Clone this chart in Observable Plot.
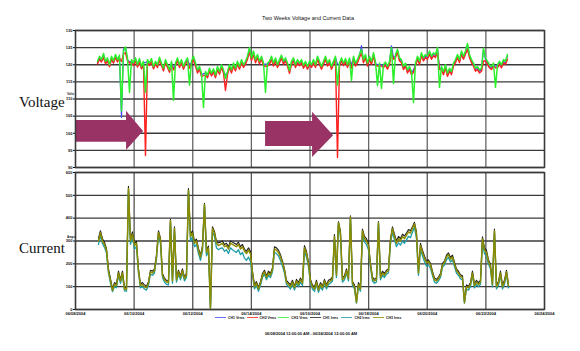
<!DOCTYPE html>
<html><head><meta charset="utf-8">
<script src="https://cdn.jsdelivr.net/npm/d3@7"></script>
<script src="https://cdn.jsdelivr.net/npm/@observablehq/plot@0.6"></script>
<style>
body{margin:0;background:#fff;}
#root{position:relative;width:580px;height:351px;overflow:hidden;font-family:Arial,"Liberation Sans",sans-serif;color:#111;}
#root svg{position:absolute;left:0;}
.t{position:absolute;white-space:nowrap;}
</style></head><body><div id="root"></div>
<script>
const chartTitle = "Two Weeks Voltage and Current Data";
const caption = "06/08/2004 12:00:00 AM - 06/24/2004 12:00:00 AM";
const seriesNames = ["CH1 Vrms","CH2 Vrms","CH3 Vrms","CH1 Irms","CH2 Irms","CH3 Irms"];
const seriesColors = ["#4646ff","#ff2020","#2cf02c","#1e1e1e","#1c9ca8","#8c8c00"];
const xTickLabels = ["06/08/2004","06/10/2004","06/12/2004","06/14/2004","06/16/2004","06/18/2004","06/20/2004","06/22/2004","06/24/2004"];
const voltTicks = [90,95,100,105,110,115,120,125,130];
const ampTicks = [0,100,200,300,400,500,600];

// sampling: start hour after 06/08/2004 00:00 and minutes between samples
const voltStartHour = 18.0, currStartHour = 18.8;
const stepMin = 98.25;

// Voltage CH3 (green)
const vGreen = [121.0,122.5,121.5,123.3,121.0,122.0,120.0,122.5,121.2,123.0,
121.5,122.8,106.5,124.0,125.2,122.0,111.9,121.5,120.5,122.0,
120.0,121.8,119.5,121.0,112.0,121.5,120.5,121.8,119.5,121.0,
120.0,122.2,120.5,119.0,121.5,120.0,118.5,121.0,109.6,120.5,
122.0,120.0,121.5,119.5,121.0,122.0,114.0,121.0,122.5,120.5,
118.5,119.5,117.5,107.5,118.0,117.0,119.0,117.5,118.8,117.0,
119.5,118.0,120.0,118.5,116.0,118.0,120.0,118.5,120.5,119.0,
121.0,119.5,121.5,120.0,121.0,122.5,125.0,122.0,124.0,121.5,
123.0,121.0,122.5,120.5,111.9,120.5,121.0,122.5,120.5,122.0,
120.0,121.5,122.8,121.0,122.0,120.5,118.3,121.0,122.0,120.0,
121.5,120.5,121.5,119.8,121.0,119.5,121.0,120.0,121.5,120.0,
122.5,121.0,119.5,121.0,122.5,120.5,121.5,119.5,121.0,122.5,
114.0,120.5,122.0,120.5,121.8,120.0,122.0,115.4,122.5,120.5,
121.5,123.0,124.5,121.5,123.0,120.5,122.5,121.0,123.5,120.8,
113.9,120.5,113.1,120.0,120.8,119.5,121.0,125.0,114.5,123.0,
124.5,122.0,121.5,119.5,120.5,118.5,119.5,118.0,109.0,120.5,
122.5,121.0,123.5,122.0,123.0,122.5,124.0,122.5,123.5,123.0,
125.0,113.4,119.5,118.0,120.0,117.5,119.0,118.0,120.5,121.5,
123.0,121.5,124.0,122.5,124.0,126.2,123.0,121.5,120.5,119.0,
119.5,118.5,119.0,124.8,122.0,121.0,120.0,119.5,120.5,113.4,
120.0,121.0,120.0,121.5,121.0,123.0];
// Voltage CH2 (red)
const vRed = [120.2,121.6,120.8,122.2,120.3,121.1,119.4,121.5,120.5,122.1,
120.8,121.9,121.0,123.1,123.5,121.2,120.5,120.6,119.8,121.1,
119.3,120.9,118.8,120.1,93.5,120.6,119.8,120.9,118.8,120.2,
119.2,121.3,119.8,118.2,120.6,119.2,117.8,120.1,118.5,119.7,
121.2,119.2,120.6,118.7,120.2,121.1,119.0,120.2,121.5,119.6,
117.6,118.7,116.6,116.8,117.0,116.2,118.1,116.7,117.9,116.2,
118.6,117.2,119.2,117.6,112.5,117.1,119.2,117.6,119.6,118.2,
120.2,118.7,120.6,119.2,120.1,121.6,123.8,121.2,123.0,120.6,
122.1,120.2,121.6,119.7,119.5,119.6,120.1,121.6,119.6,121.1,
119.2,120.6,121.9,120.1,121.1,119.6,117.5,120.1,121.1,119.2,
120.6,119.7,120.6,119.0,120.1,118.7,120.1,119.2,120.6,119.2,
121.6,120.1,118.7,120.1,121.6,119.6,120.6,118.7,120.1,121.6,
92.9,119.6,121.1,119.7,120.9,119.2,121.1,119.0,121.6,119.6,
120.6,122.1,123.4,120.6,122.1,119.6,121.6,120.1,122.6,119.9,
119.6,119.6,119.6,119.2,119.9,118.7,120.1,123.6,121.6,122.1,
123.6,121.1,120.6,118.6,119.6,117.6,118.6,117.1,117.8,119.6,
121.6,120.1,122.6,121.1,122.1,121.6,123.1,121.6,122.6,122.1,
123.9,118.6,118.6,117.1,119.1,116.6,118.1,117.1,119.6,120.6,
122.1,120.6,123.1,121.6,123.1,124.5,122.1,120.6,119.6,118.1,
118.6,117.6,118.1,121.1,121.1,120.1,119.1,118.6,119.6,119.1,
119.1,120.1,119.1,120.6,120.1,121.6];
// Voltage CH1 (blue)
const vBlue = [120.6,122.0,121.0,122.8,120.6,121.5,119.6,122.0,120.8,122.5,
121.0,122.3,104.6,124.6,124.8,121.5,120.8,121.0,120.1,121.5,
119.6,121.4,119.0,120.6,120.6,121.0,120.1,121.4,119.0,120.6,
119.6,121.8,120.1,118.6,121.0,119.6,118.1,120.6,119.0,120.1,
121.6,119.6,121.0,119.0,120.6,121.6,120.0,120.6,122.1,120.1,
118.1,119.0,117.1,117.4,117.6,116.6,118.6,117.1,118.4,116.6,
119.0,117.6,119.6,118.1,117.0,117.6,119.6,118.1,120.1,118.6,
120.6,119.0,121.0,119.6,120.6,122.1,124.6,121.6,123.6,121.0,
122.6,120.6,122.1,120.1,120.2,120.1,120.6,122.1,120.1,121.6,
119.6,121.0,122.4,120.6,121.6,120.1,118.0,120.6,121.6,119.6,
121.0,120.1,121.0,119.4,120.6,119.0,120.6,119.6,121.0,119.6,
122.1,120.6,119.0,120.6,122.1,120.1,121.0,119.0,120.6,122.1,
120.2,120.1,121.6,120.1,121.4,119.6,121.6,120.0,122.1,120.1,
121.0,122.6,125.6,121.0,122.6,120.1,122.1,120.6,123.1,120.4,
120.0,120.1,120.0,119.6,120.4,119.0,120.6,125.5,122.0,122.6,
124.1,121.6,121.0,119.0,120.1,118.1,119.0,117.6,118.5,120.1,
122.1,120.6,123.1,121.6,122.6,122.1,123.6,122.1,123.1,122.6,
124.6,119.0,119.0,117.6,119.6,117.1,118.6,117.6,120.1,121.0,
122.6,121.0,123.6,122.1,123.6,125.8,122.6,121.0,120.1,118.6,
119.0,118.1,118.6,124.4,121.6,120.6,119.6,119.0,120.1,119.6,
119.6,120.6,119.6,121.0,120.6,122.6];

// Current CH3 (olive)
const iOlive = [300,337,300,285,260,170,127,83,110,105,
160,125,160,90,88,530,300,330,280,290,
170,105,110,100,95,115,165,160,170,230,
337,305,150,130,120,118,390,125,355,130,
165,140,170,135,150,521,320,335,290,300,
260,230,270,460,250,270,4,355,335,290,
280,285,290,275,280,265,290,285,280,275,
285,265,275,255,245,260,245,160,100,115,
90,115,150,165,140,160,150,175,265,260,
250,230,205,170,120,110,100,120,95,125,
110,130,115,270,245,200,125,100,90,120,
85,110,95,125,100,120,125,135,320,150,
380,333,130,140,170,135,405,115,100,31,
110,90,345,310,300,280,195,135,125,130,
380,140,160,150,165,170,300,355,320,290,
310,300,320,310,325,340,335,355,375,330,
160,280,250,225,205,210,195,160,130,125,
135,150,195,205,230,240,220,230,200,170,
160,145,140,30,100,95,110,160,105,120,
110,120,310,260,250,210,190,110,345,100,
115,160,100,120,165,105];
// Current CH2 (teal)
const iTeal = [285,325,288,272,248,160,115,78,100,95,
150,115,150,82,80,520,285,315,265,275,
160,95,100,90,85,105,155,150,160,220,
325,290,140,120,110,108,380,115,345,120,
155,130,160,125,140,518,300,320,275,285,
245,215,255,455,235,255,4,340,320,270,
262,268,270,255,262,245,270,262,255,250,
262,240,250,225,215,230,210,150,90,105,
80,105,140,155,130,150,140,165,250,245,
235,215,190,160,110,100,90,110,85,115,
100,120,105,255,230,188,115,90,80,110,
75,100,85,115,90,110,115,125,305,140,
375,320,120,130,160,125,400,105,90,28,
100,80,330,295,285,262,185,125,115,120,
375,130,150,140,155,160,285,340,305,275,
292,282,300,290,305,320,315,338,360,312,
150,262,235,210,190,195,180,150,120,115,
125,140,185,195,218,228,208,218,188,160,
150,135,130,28,90,85,100,150,95,110,
100,110,295,245,235,198,178,100,335,90,
105,150,90,110,155,95];
// Current CH1 (black)
const iBlack = [312,345,310,295,268,178,135,90,118,112,
168,132,168,98,95,540,310,340,290,298,
178,112,118,108,102,122,172,168,178,238,
345,312,158,138,128,125,395,132,362,138,
172,148,178,142,158,530,330,345,300,308,
268,238,278,465,258,278,8,362,342,298,
292,295,300,285,290,275,300,295,290,285,
295,275,285,265,255,270,255,168,108,122,
98,122,158,172,148,168,158,182,275,270,
260,240,212,178,128,118,108,128,102,132,
118,138,122,280,255,208,132,108,98,128,
92,118,102,132,108,128,132,142,328,158,
385,342,138,148,178,142,410,122,108,38,
118,98,352,320,310,290,202,142,132,138,
385,148,168,158,172,178,310,362,330,300,
320,310,330,322,335,350,345,362,382,340,
168,290,260,235,212,218,202,168,138,132,
142,158,202,212,238,248,228,238,208,178,
168,152,148,38,108,102,118,168,112,128,
118,128,318,270,260,218,198,118,352,108,
122,168,108,128,172,112];

// annotation arrows (hours after start, volts)
const arrowStartH = [0, 155.6];
const arrowBaseH = [41.8, 194.1];
const arrowTipH = [55.7, 211.3];
const arrowBodyV = [[97.4, 103.7], [96.1, 103.4]];
const arrowHeadV = [[95.0, 106.4], [92.9, 106.1]];
const arrowTipV = [100.5, 99.3];
const arrowColor = "#993366";

const t0 = new Date(2004, 5, 8), t1 = new Date(2004, 5, 24);
const at = h => new Date(t0.getTime() + h * 3600e3);
const xTicks = xTickLabels.map((_, i) => at(i * 48));
const labelOf = new Map(xTicks.map((d, i) => [+d, xTickLabels[i]]));
const rows = (vals, startH) => vals.map((v, i) => ({t: at(startH + i * stepMin / 60), v}));

const arrowRows = [];
arrowStartH.forEach((s, k) => {
  arrowRows.push({id: k, t: at(s), lo: arrowBodyV[k][0], hi: arrowBodyV[k][1]});
  arrowRows.push({id: k, t: at(arrowBaseH[k]), lo: arrowBodyV[k][0], hi: arrowBodyV[k][1]});
  arrowRows.push({id: k, t: at(arrowBaseH[k]), lo: arrowHeadV[k][0], hi: arrowHeadV[k][1]});
  arrowRows.push({id: k, t: at(arrowTipH[k]), lo: arrowTipV[k], hi: arrowTipV[k]});
});

const gridColor = "#3a3a3a";
const common = {
  width: 580, marginLeft: 75, marginRight: 36,
  style: {background: "transparent", overflow: "visible", fontFamily: "Arial, sans-serif"},
};
const line = (data, color, w) => Plot.lineY(data, {x: "t", y: "v", stroke: color, strokeWidth: w, curve: "linear"});

const upper = Plot.plot({
  ...common, height: 150, marginTop: 5, marginBottom: 8,
  x: {type: "time", domain: [t0, t1], axis: null},
  y: {domain: [90, 130], axis: null},
  marks: [
    Plot.gridX(xTicks, {stroke: "#666", strokeOpacity: 1, strokeWidth: 1.3}),
    Plot.gridY(voltTicks, {stroke: gridColor, strokeOpacity: 1, strokeWidth: 1.3}),
    Plot.areaY(arrowRows, {x: "t", y1: "lo", y2: "hi", z: "id", fill: arrowColor}),
    line(rows(vBlue, voltStartHour), seriesColors[0], 1.2),
    line(rows(vRed, voltStartHour), seriesColors[1], 1.4),
    line(rows(vGreen, voltStartHour), seriesColors[2], 1.5),
    Plot.frame({stroke: gridColor, strokeWidth: 1.4}),
    Plot.axisY(voltTicks, {tickSize: 2, tickPadding: 1, fontSize: 4, fontWeight: "bold", label: null})
  ]
});
upper.style.top = "25px";

const lower = Plot.plot({
  ...common, height: 152, marginTop: 5, marginBottom: 10,
  x: {type: "time", domain: [t0, t1]},
  y: {domain: [0, 600]},
  marks: [
    Plot.gridX(xTicks, {stroke: "#555", strokeOpacity: 1, strokeWidth: 1.3}),
    Plot.gridY(ampTicks, {stroke: gridColor, strokeOpacity: 1, strokeWidth: 1.3}),
    line(rows(iBlack, currStartHour), seriesColors[3], 1.1),
    line(rows(iTeal, currStartHour), seriesColors[4], 1.3),
    line(rows(iOlive, currStartHour), seriesColors[5], 1.5),
    Plot.frame({stroke: gridColor, strokeWidth: 1.4}),
    Plot.axisY(ampTicks, {tickSize: 2, tickPadding: 1, fontSize: 4, fontWeight: "bold", label: null}),
    Plot.axisX(xTicks, {tickSize: 0, tickPadding: 3, fontSize: 4, fontWeight: "bold", label: null, tickFormat: d => labelOf.get(+d)})
  ]
});
lower.style.top = "167px";

const root = document.getElementById("root");
root.appendChild(upper);
root.appendChild(lower);

function text(str, left, top, css) {
  const d = document.createElement("div");
  d.className = "t"; d.textContent = str;
  d.style.left = left + "px"; d.style.top = top + "px";
  Object.assign(d.style, css || {});
  root.appendChild(d);
  return d;
}
text(chartTitle, 158, 15, {width: "300px", textAlign: "center", fontSize: "5.5px"});
text("Voltage", 19, 94, {fontFamily: "'Liberation Serif','DejaVu Serif',serif", fontSize: "15px", lineHeight: "17px"});
text("Current", 19, 240, {fontFamily: "'Liberation Serif','DejaVu Serif',serif", fontSize: "15px", lineHeight: "17px"});
text("Volts", 67, 92, {fontSize: "3px", fontWeight: "bold", lineHeight: "4px"});
text("Amps", 67, 235, {fontSize: "3px", fontWeight: "bold", lineHeight: "4px"});
text(caption, 161, 331, {width: "300px", textAlign: "center", fontSize: "4px", fontWeight: "bold"});

// legend
seriesNames.forEach((name, i) => {
  const x = 215 + i * 31.6;
  const sw = document.createElement("div");
  sw.style.cssText = `position:absolute;left:${x}px;top:317px;width:11px;height:1.2px;background:${seriesColors[i]};opacity:0.8`;
  root.appendChild(sw);
  text(name, x + 13, 315.5, {fontSize: "3.5px", fontWeight: "bold"});
});
</script></body></html>
